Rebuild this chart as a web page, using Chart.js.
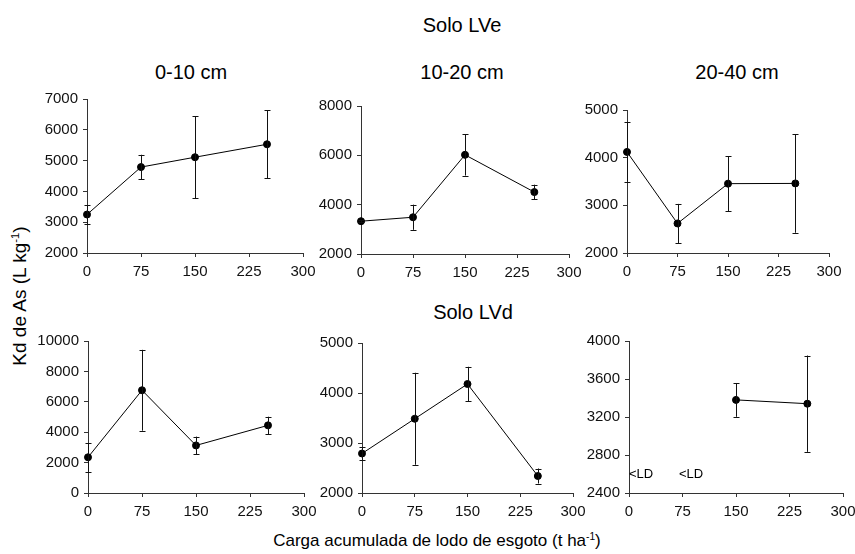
<!DOCTYPE html>
<html>
<head>
<meta charset="UTF-8">
<title>Kd de As</title>
<script src="https://cdn.jsdelivr.net/npm/chart.js@4.4.1/dist/chart.umd.min.js"></script>
<style>
  body { margin: 0; background: #fff; }
  #page { position: relative; width: 855px; height: 554px; overflow: hidden;
          font-family: "Liberation Sans", Arial, sans-serif; color: #000; }
  .lbl { position: absolute; white-space: nowrap; transform: translate(-50%, -50%); }
  .big { font-size: 20px; }
  .axt { font-size: 17px; }
  canvas { position: absolute; }
  sup { font-size: 0.6em; }
</style>
</head>
<body>
<div id="page">
  <div class="lbl big" style="left:462px;top:25px">Solo LVe</div>
  <div class="lbl big" style="left:191px;top:72px">0-10 cm</div>
  <div class="lbl big" style="left:462px;top:72px">10-20 cm</div>
  <div class="lbl big" style="left:737px;top:72px">20-40 cm</div>
  <div class="lbl big" style="left:473px;top:312px">Solo LVd</div>
  <div class="lbl" style="font-size:19px;left:20px;top:296px;transform:translate(-50%,-50%) rotate(-90deg)">Kd de As (L kg<sup>-1</sup>)</div>
  <div class="lbl axt" style="left:437px;top:541px">Carga acumulada de lodo de esgoto (t ha<sup>-1</sup>)</div>
</div>

<script>
// carga acumulada de lodo (t/ha)
const cargas = [0, 75, 150, 250];
const xTicks = [0, 75, 150, 225, 300];

// Solo LVe - Kd médio e desvio
const lve010 = [3250, 4790, 5110, 5530];
const lve010Sd = [300, 400, 1330, 1100];
const lve1020 = [3330, 3490, 6020, 4510];
const lve1020Sd = [50, 510, 840, 300];
const lve2040 = [4120, 2620, 3455, 3460];
const lve2040Sd = [620, 410, 575, 1035];

// Solo LVd
const lvd010 = [2350, 6760, 3130, 4450];
const lvd010Sd = [940, 2660, 580, 570];
const lvd1020 = [2790, 3485, 4180, 2340];
const lvd1020Sd = [125, 920, 345, 150];
const lvd2040 = [null, null, 3380, 3340];
const lvd2040Sd = [null, null, 178, 507];

// abaixo do limite de detecção (LVd 20-40)
const ldCargas = [0, 70];
const ldValor = 2600;

const FONT = "'Liberation Sans', Arial, sans-serif";
const AXIS = '#333';

const errorBars = {
  id: 'errorBars',
  afterDatasetsDraw(chart, args, opts) {
    const {ctx, scales: {x, y}} = chart;
    const pts = chart.data.datasets[0].data;
    ctx.save();
    ctx.strokeStyle = '#111';
    ctx.lineWidth = 1;
    pts.forEach((p, i) => {
      const sd = opts.sd[i];
      if (p.y == null || sd == null) return;
      const px = Math.round(x.getPixelForValue(p.x)) + 0.5;
      const top = y.getPixelForValue(p.y + sd);
      const bot = y.getPixelForValue(p.y - sd);
      ctx.beginPath();
      ctx.moveTo(px, top); ctx.lineTo(px, bot);
      ctx.moveTo(px - 3, Math.round(top) + 0.5); ctx.lineTo(px + 3, Math.round(top) + 0.5);
      ctx.moveTo(px - 3, Math.round(bot) + 0.5); ctx.lineTo(px + 3, Math.round(bot) + 0.5);
      ctx.stroke();
    });
    ctx.restore();
  }
};

const ldLabels = {
  id: 'ldLabels',
  afterDatasetsDraw(chart, args, opts) {
    if (!opts.xs) return;
    const {ctx, scales: {x, y}} = chart;
    ctx.save();
    ctx.font = '13px ' + FONT;
    ctx.fillStyle = '#000';
    ctx.textBaseline = 'middle';
    opts.xs.forEach(v => ctx.fillText('<LD', x.getPixelForValue(v), y.getPixelForValue(opts.y)));
    ctx.restore();
  }
};

// área do gráfico: left, right, top, bottom (px na página)
const YW = 70, XH = 32, PT = 12, PR = 22;

function panel(box, vals, sd, ymin, ymax, ystep, extra) {
  const [L, R, T, B] = box;
  const cv = document.createElement('canvas');
  const w = (R - L) + YW + PR, h = (B - T) + PT + XH;
  cv.width = w; cv.height = h;
  cv.style.left = (L - YW) + 'px';
  cv.style.top = (T - PT) + 'px';
  cv.style.width = w + 'px'; cv.style.height = h + 'px';
  document.getElementById('page').appendChild(cv);

  const tickFont = {family: FONT, size: 15};
  new Chart(cv, {
    type: 'line',
    data: {
      datasets: [{
        data: cargas.map((c, i) => ({x: c, y: vals[i]})),
        borderColor: '#000',
        borderWidth: 1,
        pointRadius: 3.5,
        pointBackgroundColor: '#000',
        pointBorderColor: '#000',
        spanGaps: false,
        clip: false,
        tension: 0
      }]
    },
    options: {
      responsive: false,
      animation: false,
      devicePixelRatio: 1,
      layout: {padding: {left: 0, top: PT, right: PR, bottom: 0}},
      plugins: {
        legend: {display: false},
        tooltip: {enabled: false},
        errorBars: {sd: sd},
        ldLabels: extra || {}
      },
      scales: {
        x: {
          type: 'linear', min: 0, max: 300,
          afterBuildTicks: s => { s.ticks = xTicks.map(v => ({value: v})); },
          afterFit: s => { s.height = XH; },
          grid: {drawOnChartArea: false, drawTicks: true, tickLength: 4, color: AXIS},
          border: {color: AXIS, width: 1},
          ticks: {font: tickFont, color: '#111', padding: 6, maxRotation: 0, callback: v => String(v)}
        },
        y: {
          min: ymin, max: ymax,
          afterFit: s => { s.width = YW; },
          grid: {drawOnChartArea: false, drawTicks: true, tickLength: 4, color: AXIS},
          border: {color: AXIS, width: 1},
          ticks: {font: tickFont, color: '#111', padding: 5, stepSize: ystep, callback: v => String(v)}
        }
      }
    },
    plugins: [errorBars, ldLabels]
  });
}

panel([87, 303, 97, 253], lve010, lve010Sd, 2000, 7000, 1000);
panel([361, 569, 104, 254], lve1020, lve1020Sd, 2000, 8000, 2000);
panel([627, 829, 108, 253], lve2040, lve2040Sd, 2000, 5000, 1000);
panel([88, 304, 339, 493], lvd010, lvd010Sd, 0, 10000, 2000);
panel([362, 573, 341, 493], lvd1020, lvd1020Sd, 2000, 5000, 1000);
panel([629, 843, 339, 493], lvd2040, lvd2040Sd, 2400, 4000, 400, {xs: ldCargas, y: ldValor});
</script>
</body>
</html>
